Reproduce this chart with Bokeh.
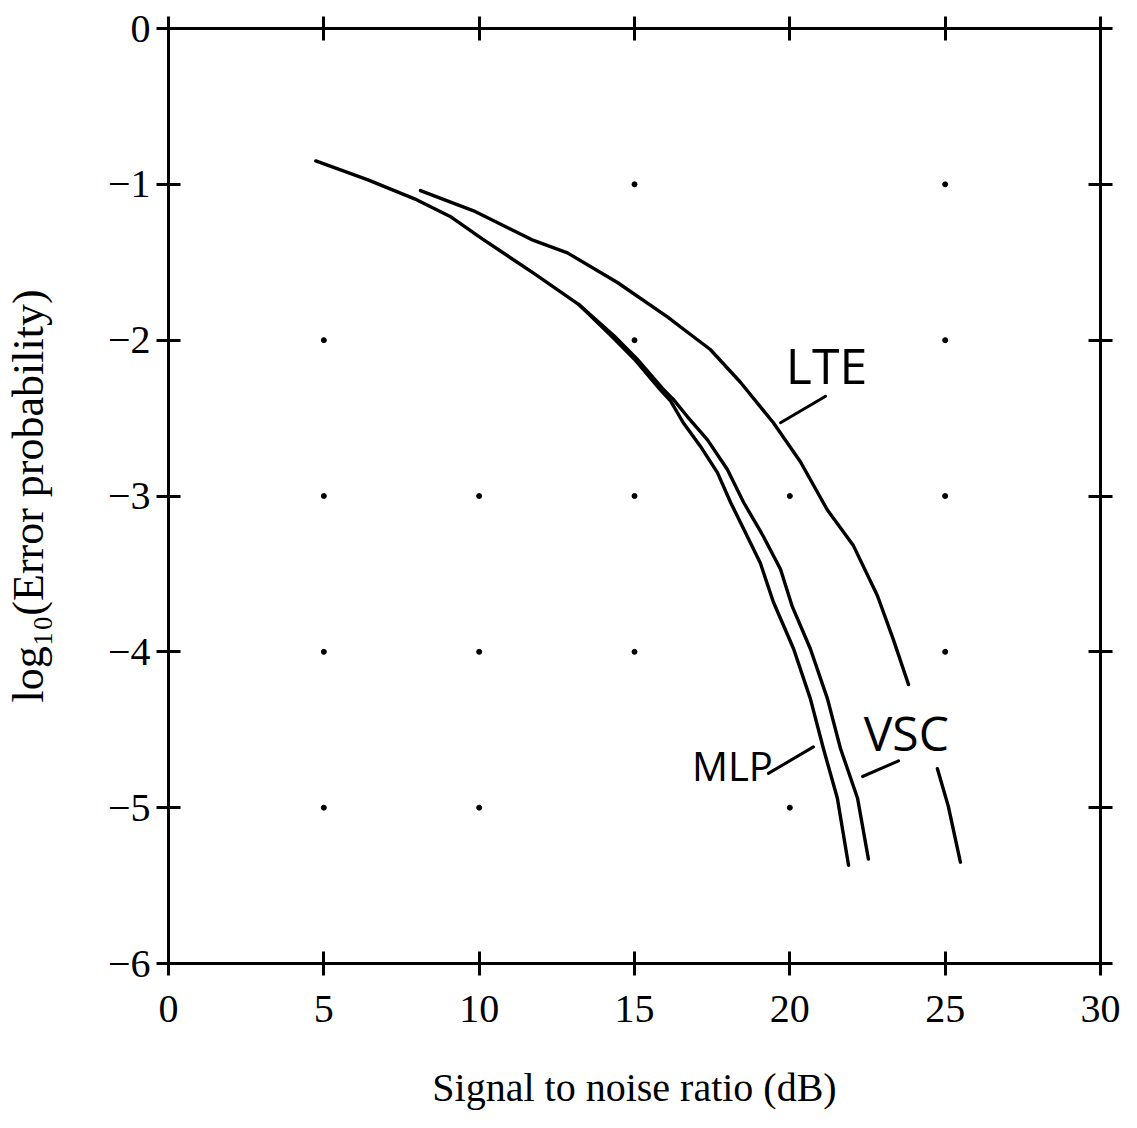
from bokeh.plotting import figure
from bokeh.models import Range1d, LinearAxis, FixedTicker
from bokeh.embed import file_html
from bokeh.resources import INLINE
from bokeh.core.properties import value

# ---- data ----
x_ticks = [0, 5, 10, 15, 20, 25, 30]
y_ticks = [0, -1, -2, -3, -4, -5, -6]
y_tick_labels = ["0", "−1", "−2", "−3", "−4", "−5", "−6"]

mlp_snr = [4.74, 6.4, 8.0, 9.1, 10.1, 11.75, 13.2, 14.29, 15.03, 15.84, 16.16, 16.57, 17.12,
           17.67, 18.09, 18.51, 19.05, 19.47, 20.12, 20.66, 21.08, 21.53, 21.89]
mlp_logp = [-0.85, -0.97, -1.10, -1.21, -1.35, -1.57, -1.77, -1.98, -2.13, -2.32, -2.39, -2.53, -2.68,
            -2.85, -3.04, -3.21, -3.43, -3.68, -3.98, -4.30, -4.62, -4.94, -5.37]

vsc_snr = [13.2, 14.33, 15.08, 15.9, 16.25, 16.70, 17.35, 17.99, 18.51, 19.15, 19.70, 20.08,
           20.66, 21.21, 21.63, 22.18, 22.53]
vsc_logp = [-1.77, -1.97, -2.12, -2.31, -2.38, -2.49, -2.64, -2.83, -3.04, -3.26, -3.47, -3.71,
            -3.98, -4.30, -4.62, -4.94, -5.33]

lte_snr = [8.11, 9.82, 11.75, 12.84, 14.45, 16.06, 16.58, 17.44, 18.41, 19.47, 20.34, 21.21,
           22.05, 22.82, 23.33, 23.82, float("nan"), 24.75, 25.10, 25.49]
lte_logp = [-1.04, -1.17, -1.36, -1.44, -1.63, -1.85, -1.93, -2.06, -2.27, -2.53, -2.78, -3.09,
            -3.32, -3.64, -3.92, -4.21, float("nan"), -4.75, -4.99, -5.35]

dot_snr = [15, 25, 5, 15, 25, 5, 10, 15, 20, 25, 5, 10, 15, 25, 5, 10, 20]
dot_logp = [-1, -1, -2, -2, -2, -3, -3, -3, -3, -3, -4, -4, -4, -4, -5, -5, -5]

curve_names = ["LTE", "VSC", "MLP"]
label_snr = [21.18, 23.75, 18.15]
label_logp = [-2.16, -4.52, -4.73]
leader_x0 = [19.70, 22.34, 19.31]
leader_y0 = [-2.53, -4.80, -4.78]
leader_x1 = [21.15, 23.50, 20.76]
leader_y1 = [-2.36, -4.70, -4.61]

# ---- figure ----
p = figure(width=1121, height=1112,
           x_range=Range1d(0, 30), y_range=Range1d(-6, 0),
           output_backend="svg", toolbar_location=None,
           min_border_left=168, min_border_right=21,
           min_border_top=28, min_border_bottom=147)
p.grid.visible = False
p.outline_line_color = None
p.background_fill_color = "white"
p.border_fill_color = "white"

serif = "Liberation Serif"


def style_axis(ax, ticks):
    ax.ticker = FixedTicker(ticks=ticks)
    ax.minor_tick_line_color = None
    ax.axis_line_width = 3
    ax.axis_line_color = "black"
    ax.major_tick_line_width = 3
    ax.major_tick_line_color = "black"
    ax.major_tick_in = 12
    ax.major_tick_out = 12
    ax.major_label_text_font = serif
    ax.major_label_text_font_size = "40px"
    ax.major_label_text_color = "black"
    ax.axis_label_text_font = serif
    ax.axis_label_text_font_style = "normal"
    ax.axis_label_text_color = "black"


xa = p.xaxis[0]
style_axis(xa, x_ticks)
xa.major_label_standoff = 20
xa.axis_label = "Signal to noise ratio (dB)"
xa.axis_label_text_font_size = "40px"
xa.axis_label_standoff = 40

ya = p.yaxis[0]
style_axis(ya, y_ticks)
ya.major_label_overrides = {t: s for t, s in zip(y_ticks, y_tick_labels)}
ya.major_label_standoff = 6
ya.axis_label = "log₁₀(Error probability)"
ya.axis_label_text_font_size = "44px"
ya.axis_label_standoff = 52

for side, ticks in (("above", x_ticks), ("right", y_ticks)):
    ax = LinearAxis()
    style_axis(ax, ticks)
    ax.major_label_text_color = None
    ax.major_label_text_font_size = "0px"
    ax.major_label_standoff = 0
    p.add_layout(ax, side)

# grid dots
p.scatter(dot_snr, dot_logp, size=5, color="black")

# curves
lw = 3.4
for xs, ys in ((mlp_snr, mlp_logp), (vsc_snr, vsc_logp), (lte_snr, lte_logp)):
    p.line(xs, ys, line_width=lw, color="black", line_join="round", line_cap="round")

# labels and leaders
sizes = ["50px", "48px", "40px"]
for name, lx, ly, fs in zip(curve_names, label_snr, label_logp, sizes):
    p.text(x=[lx], y=[ly], text=[name], text_font=value("Open Sans"),
           text_font_size=value(fs), text_align="center", text_baseline="middle",
           text_color="black")
p.segment(x0=leader_x0, y0=leader_y0, x1=leader_x1, y1=leader_y1,
          line_width=3, color="black", line_cap="round")

open("out.html", "w").write(file_html(p, INLINE))
